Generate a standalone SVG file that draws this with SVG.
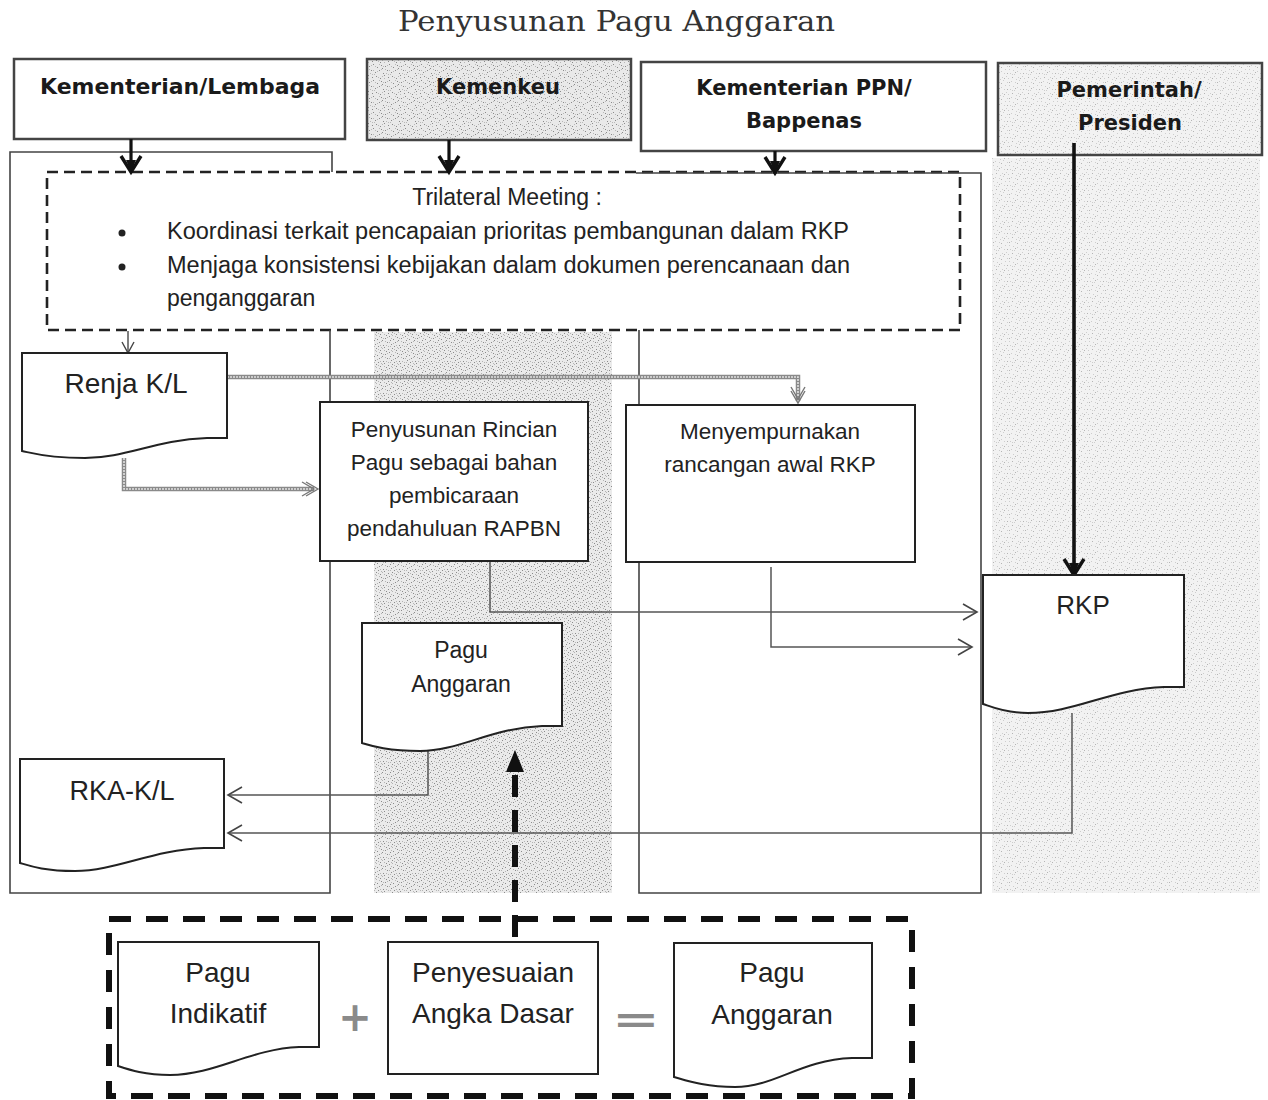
<svg xmlns="http://www.w3.org/2000/svg" width="1268" height="1100" viewBox="0 0 1268 1100">
<defs>
<style>
.hd{font-family:"DejaVu Sans",sans-serif;font-weight:bold;font-size:21px;fill:#1a1a1a;text-anchor:middle}
.t{font-family:"Liberation Sans",Arial,sans-serif;fill:#222;text-anchor:middle}
.tl{font-family:"Liberation Sans",Arial,sans-serif;fill:#222;font-size:23px}
.box{fill:#fff;stroke:#222;stroke-width:2}
.hbox{stroke:#444;stroke-width:2.5}
.lane{fill:none;stroke:#444;stroke-width:1.6}
.conn{fill:none;stroke:#555;stroke-width:1.5}
.dbl{fill:none;stroke:#8a8a8a;stroke-width:4.5}
.dblin{fill:none;stroke:#e2e2e2;stroke-width:1.6;stroke-dasharray:2 1}
.thick{fill:none;stroke:#111;stroke-width:3.2}
.op{font-family:"DejaVu Sans",sans-serif;font-weight:bold;fill:#8a8a8a;text-anchor:middle}
</style>
<pattern id="nzA" width="16" height="16" patternUnits="userSpaceOnUse">
<rect width="16" height="16" fill="#ebebeb"/>
<path fill="#8c8c8c" d="M1 2h1v1h-1zM5 0h1v1h-1zM9 3h1v1h-1zM13 1h1v1h-1zM3 6h1v1h-1zM7 8h1v1h-1zM11 6h1v1h-1zM15 9h1v1h-1zM0 11h1v1h-1zM4 13h1v1h-1zM8 12h1v1h-1zM12 14h1v1h-1zM14 4h1v1h-1zM6 4h1v1h-1zM10 10h1v1h-1zM2 15h1v1h-1z"/>
<path fill="#b5b5b5" d="M3 1h1v1h-1zM7 2h1v1h-1zM11 0h1v1h-1zM15 2h1v1h-1zM1 5h1v1h-1zM5 6h1v1h-1zM9 7h1v1h-1zM13 5h1v1h-1zM2 9h1v1h-1zM6 10h1v1h-1zM10 13h1v1h-1zM14 12h1v1h-1zM0 14h1v1h-1zM4 10h1v1h-1zM8 15h1v1h-1zM12 9h1v1h-1zM13 11h1v1h-1zM7 14h1v1h-1z"/>
</pattern>
<pattern id="nzH" width="16" height="16" patternUnits="userSpaceOnUse">
<rect width="16" height="16" fill="#e9e9e9"/>
<path fill="#8a8a8a" d="M1 2h1v1h-1zM5 0h1v1h-1zM9 3h1v1h-1zM13 1h1v1h-1zM3 6h1v1h-1zM7 8h1v1h-1zM11 6h1v1h-1zM15 9h1v1h-1zM0 11h1v1h-1zM4 13h1v1h-1zM8 12h1v1h-1zM12 14h1v1h-1zM14 4h1v1h-1z"/>
<path fill="#b8b8b8" d="M3 1h1v1h-1zM7 2h1v1h-1zM11 0h1v1h-1zM15 2h1v1h-1zM1 5h1v1h-1zM5 6h1v1h-1zM9 7h1v1h-1zM13 5h1v1h-1zM2 9h1v1h-1zM6 10h1v1h-1zM10 13h1v1h-1zM14 12h1v1h-1zM0 14h1v1h-1zM4 10h1v1h-1z"/>
</pattern>
<pattern id="nzL" width="16" height="16" patternUnits="userSpaceOnUse">
<rect width="16" height="16" fill="#f2f2f2"/>
<path fill="#cdcdcd" d="M3 1h1v1h-1zM7 2h1v1h-1zM11 0h1v1h-1zM15 2h1v1h-1zM1 5h1v1h-1zM5 6h1v1h-1zM9 7h1v1h-1zM13 5h1v1h-1zM2 9h1v1h-1zM6 10h1v1h-1zM10 13h1v1h-1zM14 12h1v1h-1zM0 14h1v1h-1zM4 10h1v1h-1zM8 15h1v1h-1zM12 9h1v1h-1z"/>
<path fill="#b4b4b4" d="M1 2h1v1h-1zM9 3h1v1h-1zM7 8h1v1h-1zM15 9h1v1h-1zM4 13h1v1h-1zM12 14h1v1h-1z"/>
</pattern>
<marker id="chev" markerUnits="userSpaceOnUse" markerWidth="18" markerHeight="20" refX="15" refY="10" orient="auto" viewBox="0 0 18 20">
<path d="M1,2 L15,10 L1,18" fill="none" stroke="#444" stroke-width="1.6"/>
</marker>
<marker id="dchev" markerUnits="userSpaceOnUse" markerWidth="20" markerHeight="20" refX="17" refY="10" orient="auto" viewBox="0 0 20 20">
<path d="M1,3 L13,10 L1,17 M5,3 L17,10 L5,17" fill="none" stroke="#777" stroke-width="1.4"/>
</marker>
<marker id="tchev" markerUnits="userSpaceOnUse" markerWidth="22" markerHeight="24" refX="18" refY="12" orient="auto" viewBox="0 0 22 24">
<path d="M2,2 L18,12 L2,22" fill="none" stroke="#111" stroke-width="3.4"/>
<path d="M6,7 L18,12 L6,17 Z" fill="#111"/>
</marker>
<marker id="schev" markerUnits="userSpaceOnUse" markerWidth="14" markerHeight="16" refX="12" refY="8" orient="auto" viewBox="0 0 14 16">
<path d="M1,2 L12,8 L1,14" fill="none" stroke="#444" stroke-width="1.4"/>
</marker>
</defs>

<rect width="1268" height="1100" fill="#fff"/>

<text x="398" y="31" font-family="DejaVu Serif, serif" font-size="28" fill="#333" textLength="437" lengthAdjust="spacingAndGlyphs">Penyusunan Pagu Anggaran</text>

<g id="lanes">
<rect x="374" y="332" width="238" height="561" fill="url(#nzA)"/>
<rect x="992" y="158" width="268" height="735" fill="url(#nzL)"/>
</g>

<g id="trilateral">
<rect x="47" y="172" width="913" height="158" fill="#fff" stroke="#222" stroke-width="2.6" stroke-dasharray="11 6"/>
<text class="tl" x="507" y="205" text-anchor="middle">Trilateral Meeting :</text>
<circle cx="122" cy="233" r="3.5" fill="#222"/>
<circle cx="122" cy="267" r="3.5" fill="#222"/>
<text class="tl" x="167" y="239" textLength="682" lengthAdjust="spacingAndGlyphs">Koordinasi terkait pencapaian prioritas pembangunan dalam RKP</text>
<text class="tl" x="167" y="273" textLength="683" lengthAdjust="spacingAndGlyphs">Menjaga konsistensi kebijakan dalam dokumen perencanaan dan</text>
<text class="tl" x="167" y="306">penganggaran</text>
</g>

<g id="lane-borders">
<path class="lane" d="M332,172 V152 H10 V893 H330 V330"/>
<path class="lane" d="M639,330 V893 H981 V173 H636"/>
</g>

<g id="h-kl">
<rect class="hbox" x="14" y="59" width="331" height="80" fill="#fff"/>
<text class="hd" x="180" y="94" textLength="280" lengthAdjust="spacingAndGlyphs">Kementerian/Lembaga</text>
</g>
<g id="h-kemenkeu">
<rect class="hbox" x="367" y="59" width="264" height="81" fill="url(#nzH)"/>
<text class="hd" x="498" y="94">Kemenkeu</text>
</g>
<g id="h-bappenas">
<rect class="hbox" x="641" y="62" width="345" height="89" fill="#fff"/>
<text class="hd" x="804" y="95">Kementerian PPN/</text>
<text class="hd" x="804" y="128">Bappenas</text>
</g>
<g id="h-presiden">
<rect class="hbox" x="998" y="63" width="264" height="92" fill="url(#nzL)"/>
<text class="hd" x="1129" y="97">Pemerintah/</text>
<text class="hd" x="1130" y="130">Presiden</text>
</g>

<g id="connectors">
<path class="thick" d="M131,139 V172" marker-end="url(#tchev)"/>
<path class="thick" d="M449,140 V172" marker-end="url(#tchev)"/>
<path class="thick" d="M775,151 V173" marker-end="url(#tchev)"/>
<path d="M1074,143 V575" fill="none" stroke="#111" stroke-width="3.6" marker-end="url(#tchev)"/>
<path class="conn" d="M128,331 V353" marker-end="url(#schev)"/>
<path class="dbl" d="M227,377 H798 V401"/>
<path class="dblin" d="M227,377 H798 V401"/>
<path d="M798,390 V403" fill="none" stroke="none" marker-end="url(#dchev)"/>
<path class="dbl" d="M124,458 V489 H314"/>
<path class="dblin" d="M124,458 V489 H314"/>
<path d="M300,489 H318" fill="none" stroke="none" marker-end="url(#dchev)"/>
<path class="conn" d="M490,562 V612 H977" marker-end="url(#chev)"/>
<path class="conn" d="M771,567 V647 H972" marker-end="url(#chev)"/>
<path class="conn" d="M428,751 V795 H228" marker-end="url(#chev)"/>
<path class="conn" d="M1072,713 V833 H228" marker-end="url(#chev)"/>
<path d="M515,937 V770" fill="none" stroke="#111" stroke-width="6" stroke-dasharray="22 13"/>
<path d="M515,750 L506,772 L524,772 Z" fill="#111"/>
</g>

<g id="renja">
<path class="box" d="M22,353 H227 V438 H207 C155,440 126,458 85,458 C47,458 32,453 22,451 Z"/>
<text class="t" x="126" y="393" font-size="28">Renja K/L</text>
</g>

<g id="penyusunan">
<rect class="box" x="320" y="402" width="268" height="159"/>
<text class="t" x="454" y="437" font-size="22.5">Penyusunan Rincian</text>
<text class="t" x="454" y="470" font-size="22.5">Pagu sebagai bahan</text>
<text class="t" x="454" y="503" font-size="22.5">pembicaraan</text>
<text class="t" x="454" y="536" font-size="22.5">pendahuluan RAPBN</text>
</g>

<g id="menyempurnakan">
<rect class="box" x="626" y="405" width="289" height="157"/>
<text class="t" x="770" y="439" font-size="22.5">Menyempurnakan</text>
<text class="t" x="770" y="472" font-size="22.5">rancangan awal RKP</text>
</g>

<g id="rkp">
<path class="box" d="M983,575 H1184 V687 H1164 C1110,689 1075,713 1028,713 C1005,713 992,707 983,704 Z"/>
<text class="t" x="1083" y="614" font-size="26">RKP</text>
</g>

<g id="pagu-anggaran-mid">
<path class="box" d="M362,623 H562 V726 H542 C490,728 460,751 420,751 C388,751 372,746 362,743 Z"/>
<text class="t" x="461" y="658" font-size="23">Pagu</text>
<text class="t" x="461" y="692" font-size="23">Anggaran</text>
</g>

<g id="rkakl">
<path class="box" d="M20,759 H224 V848 H204 C152,850 116,871 75,871 C44,871 30,866 20,863 Z"/>
<text class="t" x="122" y="800" font-size="27">RKA-K/L</text>
</g>

<g id="formula">
<rect x="109" y="919" width="803" height="177" fill="none" stroke="#111" stroke-width="6" stroke-dasharray="22 15"/>
</g>

<g id="pagu-indikatif">
<path class="box" d="M118,942 H319 V1047 H299 C250,1049 215,1075 170,1075 C145,1075 130,1070 118,1066 Z"/>
<text class="t" x="218" y="982" font-size="28">Pagu</text>
<text class="t" x="218" y="1023" font-size="28">Indikatif</text>
</g>

<g id="plus">
<text class="op" x="355" y="1031" font-size="40">+</text>
</g>

<g id="penyesuaian">
<rect class="box" x="388" y="942" width="210" height="132"/>
<text class="t" x="493" y="982" font-size="28">Penyesuaian</text>
<text class="t" x="493" y="1023" font-size="28">Angka Dasar</text>
</g>

<g id="equals">
<text class="op" x="0" y="0" font-size="38" transform="translate(636,1032) scale(1.5,1)">=</text>
</g>

<g id="pagu-anggaran-result">
<path class="box" d="M674,943 H872 V1058 H852 C800,1060 775,1087 735,1087 C705,1087 688,1081 674,1077 Z"/>
<text class="t" x="772" y="982" font-size="28">Pagu</text>
<text class="t" x="772" y="1024" font-size="28">Anggaran</text>
</g>
</svg>
